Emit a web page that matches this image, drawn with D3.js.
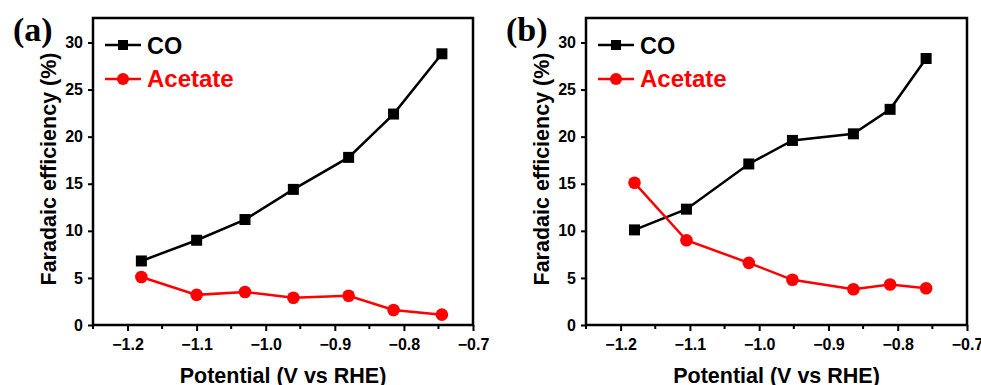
<!DOCTYPE html>
<html>
<head>
<meta charset="utf-8">
<script src="https://cdn.jsdelivr.net/npm/d3@7"></script>
<style>
  body { margin: 0; background: #fff; }
  svg { display: block; }
</style>
</head>
<body>
<div id="app"></div>
<script>
// potentials (V vs RHE) and faradaic efficiencies (%)
const potentialA = [-1.18, -1.10, -1.03, -0.96, -0.88, -0.815, -0.745]
const coA = [6.8, 9.0, 11.2, 14.4, 17.8, 22.4, 28.8]
const acetateA = [5.1, 3.2, 3.5, 2.9, 3.1, 1.6, 1.1]

const potentialB = [-1.18, -1.105, -1.015, -0.952, -0.864, -0.811, -0.759]
const coB = [10.1, 12.3, 17.1, 19.6, 20.3, 22.9, 28.3]
const acetateB = [15.1, 9.0, 6.6, 4.8, 3.8, 4.3, 3.9]

const xTicks = [-1.2, -1.1, -1.0, -0.9, -0.8, -0.7]
const yTicks = [0, 5, 10, 15, 20, 25, 30]

const W = 981, H = 385
const svg = d3.select("#app").append("svg")
    .attr("width", W)
    .attr("height", H)

const font = "'Liberation Sans', Arial, sans-serif"

function panel(tag, left, right, xs, co, ac) {
  const top = 18, bottom = 325
  const x = d3.scaleLinear().domain([-1.25, -0.7]).range([left, right])
  const y = d3.scaleLinear().domain([0, 32.6]).range([bottom, top])

  const g = svg.append("g")

  // x axis: majors + minor ticks, outward
  const xa = g.append("g")
      .attr("transform", `translate(0,${bottom})`)
      .call(d3.axisBottom(x).tickValues(xTicks).tickSize(6).tickPadding(8)
        .tickFormat(d => d3.format(".1f")(d).replace("-", "\u2212")))
  xa.select(".domain").remove()
  xa.selectAll("line").attr("stroke-width", 2)
  xa.selectAll("text").attr("font-family", font).attr("font-weight", "bold")
      .attr("font-size", 16).attr("fill", "#000")
  const minors = d3.range(-1.25, -0.7, 0.1).map(v => +v.toFixed(2))
  g.append("g").selectAll("line").data(minors).join("line")
      .attr("x1", d => x(d)).attr("x2", d => x(d))
      .attr("y1", bottom).attr("y2", bottom + 4)
      .attr("stroke", "#000").attr("stroke-width", 2)

  // y axis
  const ya = g.append("g")
      .attr("transform", `translate(${left},0)`)
      .call(d3.axisLeft(y).tickValues(yTicks).tickSize(5).tickPadding(5))
  ya.select(".domain").remove()
  ya.selectAll("line").attr("stroke-width", 2)
  ya.selectAll("text").attr("font-family", font).attr("font-weight", "bold")
      .attr("font-size", 16).attr("fill", "#000")

  // frame
  g.append("rect")
      .attr("x", left).attr("y", top)
      .attr("width", right - left).attr("height", bottom - top)
      .attr("fill", "none").attr("stroke", "#000").attr("stroke-width", 2.5)

  const line = d3.line().x(d => x(d[0])).y(d => y(d[1]))
  const coPts = xs.map((v, i) => [v, co[i]])
  const acPts = xs.map((v, i) => [v, ac[i]])

  g.append("path").datum(coPts).attr("d", line)
      .attr("fill", "none").attr("stroke", "#000").attr("stroke-width", 2.5)
  g.append("g").selectAll("rect").data(coPts).join("rect")
      .attr("x", d => x(d[0]) - 5.5).attr("y", d => y(d[1]) - 5.5)
      .attr("width", 11).attr("height", 11).attr("fill", "#000")

  g.append("path").datum(acPts).attr("d", line)
      .attr("fill", "none").attr("stroke", "#ff0000").attr("stroke-width", 2.5)
  g.append("g").selectAll("circle").data(acPts).join("circle")
      .attr("cx", d => x(d[0])).attr("cy", d => y(d[1]))
      .attr("r", 6.3).attr("fill", "#ff0000")

  // legend
  const lx = left + 12
  const lg = g.append("g")
  lg.append("line").attr("x1", lx).attr("x2", lx + 36).attr("y1", 45).attr("y2", 45)
      .attr("stroke", "#000").attr("stroke-width", 2.5)
  lg.append("rect").attr("x", lx + 13).attr("y", 40).attr("width", 10).attr("height", 10)
      .attr("fill", "#000")
  lg.append("text").attr("x", lx + 42).attr("y", 54).text("CO")
      .attr("font-family", font).attr("font-weight", "bold").attr("font-size", 23.5)
  lg.append("line").attr("x1", lx).attr("x2", lx + 36).attr("y1", 79).attr("y2", 79)
      .attr("stroke", "#ff0000").attr("stroke-width", 2.5)
  lg.append("circle").attr("cx", lx + 18).attr("cy", 79).attr("r", 6)
      .attr("fill", "#ff0000")
  lg.append("text").attr("x", lx + 42).attr("y", 87).text("Acetate")
      .attr("fill", "#ff0000")
      .attr("font-family", font).attr("font-weight", "bold").attr("font-size", 24)

  // axis titles
  g.append("text")
      .attr("transform", `translate(${left - 37},169) rotate(-90)`)
      .attr("text-anchor", "middle")
      .attr("font-family", font).attr("font-weight", "bold").attr("font-size", 21.5)
      .text("Faradaic efficiency (%)")
  g.append("text")
      .attr("x", (left + right) / 2 + 0).attr("y", 383)
      .attr("text-anchor", "middle")
      .attr("font-family", font).attr("font-weight", "bold").attr("font-size", 21.5)
      .text("Potential (V vs RHE)")

  // panel tag
  g.append("text")
      .attr("x", left - 80).attr("y", 41)
      .attr("font-family", "'Liberation Serif', 'Times New Roman', serif")
      .attr("font-weight", "bold").attr("font-size", 34)
      .text(tag)
}

panel("(a)", 93, 473, potentialA, coA, acetateA)
panel("(b)", 586, 967, potentialB, coB, acetateB)
</script>
</body>
</html>
